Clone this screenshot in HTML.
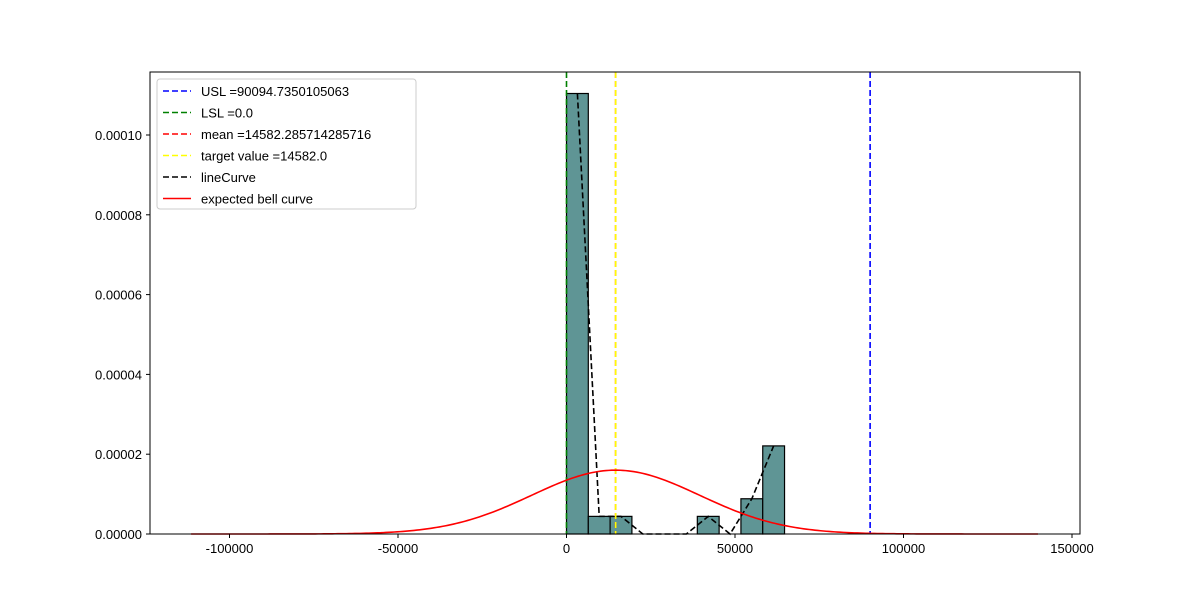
<!DOCTYPE html>
<html><head><meta charset="utf-8"><style>
body{margin:0;background:#fff;}
svg text{font-family:"Liberation Sans","DejaVu Sans",sans-serif;font-size:13px;fill:#000;}
</style></head><body>
<svg width="1200" height="600">
<g id="plot"></g>
</svg>
<script>
const binCounts=[25,1,1,0,0,0,1,0,2,5];
const binStart=0, binEnd=64700, nTotal=35;
const xTicks=[-100000,-50000,0,50000,100000,150000];
const yTicks=[0,0.00002,0.00004,0.00006,0.00008,0.00010];
const yTickLabels=["0.00000","0.00002","0.00004","0.00006","0.00008","0.00010"];
const usl=90094.7350105063, lsl=0, meanV=14582.285714285716, target=14582.0, stdV=24934;
const bellRange=[-111400,139900];
const legendLabels=["USL =90094.7350105063","LSL =0.0","mean =14582.285714285716","target value =14582.0","lineCurve","expected bell curve"];
const legendColors=["blue","green","red","yellow","black","red"];

const L=150,R=1080,T=72,B=534;
const X=v=>566.5+v*(168.5/50000);
const Y=v=>534-v*(399/0.0001);
const g=document.getElementById('plot');
const NS="http://www.w3.org/2000/svg";
function mk(tag,attrs,parent){const e=document.createElementNS(NS,tag);for(const k in attrs)e.setAttribute(k,attrs[k]);(parent||g).appendChild(e);return e;}
const bw=(binEnd-binStart)/binCounts.length;
const dens=binCounts.map(c=>c/(nTotal*bw));
dens.forEach((d,i)=>{
 if(d<=0)return;
 const r=mk('rect',{x:X(binStart+i*bw),y:Y(d),width:X(binStart+(i+1)*bw)-X(binStart+i*bw),height:Y(0)-Y(d),fill:'#5f9595',stroke:'#000','stroke-width':1.2});
 
 
});
function vline(v,c,name){const l=mk('line',{x1:X(v),x2:X(v),y1:T,y2:B,stroke:c,'stroke-width':1.6,'stroke-dasharray':'6,3'});
 }
vline(usl,'blue','usl-line');vline(lsl,'green','lsl-line');vline(meanV,'red','mean-line');vline(target,'yellow','target-line');
const lp=dens.map((d,i)=>X(binStart+(i+0.5)*bw)+','+Y(d)).join(' ');
const lc=mk('polyline',{points:lp,fill:'none',stroke:'#000','stroke-width':1.6,'stroke-dasharray':'6,3'});

let bp=[];for(let i=0;i<=300;i++){const x=bellRange[0]+(bellRange[1]-bellRange[0])*i/300;
 const y=Math.exp(-0.5*((x-meanV)/stdV)**2)/(stdV*Math.sqrt(2*Math.PI));bp.push(X(x)+','+Y(y));}
const bc=mk('polyline',{points:bp.join(' '),fill:'none',stroke:'red','stroke-width':1.6});

const fr=mk('rect',{x:L,y:T,width:R-L,height:B-T,fill:'none',stroke:'#000','stroke-width':1});

xTicks.forEach(t=>{mk('line',{x1:X(t),x2:X(t),y1:B,y2:B+4,stroke:'#000'});
 const tx=mk('text',{x:X(t),y:B+19,'text-anchor':'middle'});tx.textContent=t;
 });
yTicks.forEach((t,i)=>{mk('line',{x1:L-4,x2:L,y1:Y(t),y2:Y(t),stroke:'#000'});
 const tx=mk('text',{x:L-8,y:Y(t)+5,'text-anchor':'end'});tx.textContent=yTickLabels[i];
 });
const lg=mk('g',{});
mk('rect',{x:157,y:79,width:259,height:130,rx:3,fill:'#fff','fill-opacity':0.8,stroke:'#ccc'},lg);
legendLabels.forEach((s,i)=>{const y=91+i*21.5;
 const a={x1:163,x2:191,y1:y,y2:y,stroke:legendColors[i],'stroke-width':1.6};
 if(i<5)a['stroke-dasharray']='6,3';
 mk('line',a,lg);
 const tx=mk('text',{x:201,y:y+5},lg);tx.textContent=s;
 });
</script>
</body></html>
